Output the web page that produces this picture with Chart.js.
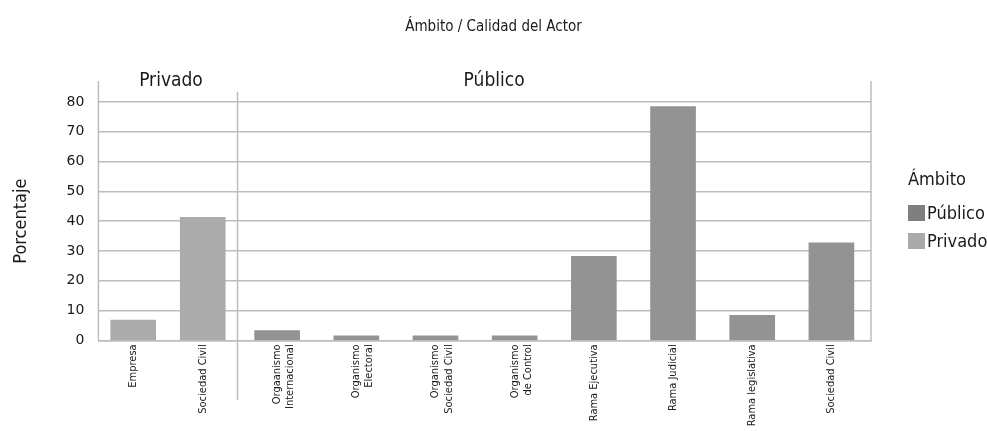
<!DOCTYPE html>
<html lang="es">
<head>
<meta charset="utf-8">
<title>Ámbito / Calidad del Actor</title>
<script src="https://cdn.jsdelivr.net/npm/chart.js@4.4.1/dist/chart.umd.min.js"></script>
<style>
  html, body { margin: 0; padding: 0; background: #fff; }
  .chart-container { position: relative; width: 987px; height: 431px; }
</style>
</head>
<body>
<div class="chart-container"><canvas id="chart"></canvas></div>
<script>
const chartTitle = 'Ámbito / Calidad del Actor';
const yTitle = 'Porcentaje';
const legendTitle = 'Ámbito';
const groupLabels = ['Privado', 'Público'];

const privadoCategories = ['Empresa', 'Sociedad Civil'];
const publicoCategories = [
  ['Orgaanismo', 'Internacional'],
  ['Organismo', 'Electoral'],
  ['Organismo', 'Sociedad Civil'],
  ['Organismo', 'de Control'],
  'Rama Ejecutiva',
  'Rama Judicial',
  'Rama legislativa',
  'Sociedad Civil'
];

const privadoValues = [6.8, 41.3];
const publicoValues = [3.3, 1.5, 1.5, 1.5, 28.2, 78.5, 8.4, 32.7];

const yTicks = [0, 10, 20, 30, 40, 50, 60, 70, 80];

const narrow = "'Liberation Sans Narrow', 'DejaVu Sans Condensed', sans-serif";
const textColor = '#1a1a1a';
const lineColor = '#bdbdbd';
const legendColors = { 'Público': '#7f7f7f', 'Privado': '#a9a9a9' };

// title, frame lines that run past the plot area, group headers and the legend
const framePlugin = {
  id: 'frame',
  afterDraw(chart) {
    const { ctx, chartArea } = chart;
    const priv = chart.scales.xPriv;
    const pub = chart.scales.xPub;
    ctx.save();

    ctx.fillStyle = textColor;
    ctx.font = '15px ' + narrow;
    ctx.textAlign = 'center';
    ctx.textBaseline = 'middle';
    ctx.fillText(chartTitle, chart.width / 2, 27);

    ctx.strokeStyle = lineColor;
    ctx.lineWidth = 1.5;
    ctx.beginPath();
    ctx.moveTo(priv.left, chartArea.top - 21);
    ctx.lineTo(priv.left, chartArea.bottom);
    ctx.moveTo(pub.right, chartArea.top - 21);
    ctx.lineTo(pub.right, chartArea.bottom);
    ctx.moveTo(pub.left, chartArea.top - 10);
    ctx.lineTo(pub.left, chartArea.bottom + 60);
    ctx.stroke();

    ctx.font = '19px ' + narrow;
    ctx.fillText(groupLabels[0], (priv.left + priv.right) / 2 + 3, chartArea.top - 21);
    ctx.fillText(groupLabels[1], pub.left + pub.width * 0.405, chartArea.top - 21);

    // legend
    const lx = chartArea.right + 37;
    let ly = chartArea.top + 78;
    ctx.font = '18px ' + narrow;
    ctx.textAlign = 'left';
    ctx.fillText(legendTitle, lx, ly);
    ly += 5;
    chart.data.datasets.forEach(ds => {
      ly += 28;
      ctx.fillStyle = legendColors[ds.label];
      ctx.fillRect(lx, ly - 8, 17, 16);
      ctx.fillStyle = textColor;
      ctx.fillText(ds.label, lx + 19, ly + 1);
    });
    ctx.restore();
  }
};

new Chart(document.getElementById('chart'), {
  type: 'bar',
  data: {
    datasets: [
      {
        label: 'Público',
        data: publicoValues,
        xAxisID: 'xPub',
        backgroundColor: '#939393',
        borderWidth: 0,
        grouped: false,
        barThickness: 45
      },
      {
        label: 'Privado',
        data: privadoValues,
        xAxisID: 'xPriv',
        backgroundColor: '#ababab',
        borderWidth: 0,
        grouped: false,
        barThickness: 45
      }
    ]
  },
  options: {
    responsive: true,
    maintainAspectRatio: false,
    animation: false,
    layout: { padding: { left: 11, right: 116, top: 102, bottom: 7 } },
    plugins: {
      title: { display: false },
      legend: { display: false },
      tooltip: { enabled: false }
    },
    scales: {
      xPriv: {
        type: 'category',
        axis: 'x',
        position: 'bottom',
        labels: privadoCategories,
        offset: true,
        stack: 'x',
        stackWeight: 139,
        grid: { display: false, drawTicks: false },
        border: { display: true, color: lineColor, width: 1.5 },
        ticks: {
          autoSkip: false, minRotation: 90, maxRotation: 90, padding: 4,
          color: textColor, font: { family: narrow, size: 11 }
        }
      },
      xPub: {
        type: 'category',
        axis: 'x',
        position: 'bottom',
        labels: publicoCategories,
        offset: true,
        stack: 'x',
        stackWeight: 633,
        grid: { display: false, drawTicks: false },
        border: { display: true, color: lineColor, width: 1.5 },
        ticks: {
          autoSkip: false, minRotation: 90, maxRotation: 90, padding: 4,
          color: textColor, font: { family: narrow, size: 11 }
        }
      },
      y: {
        min: yTicks[0],
        max: yTicks[yTicks.length - 1],
        grid: { color: lineColor, lineWidth: 1.5, drawTicks: false },
        border: { display: false },
        ticks: {
          stepSize: yTicks[1] - yTicks[0],
          padding: 14,
          color: textColor,
          font: { family: "'DejaVu Sans', sans-serif", size: 14 }
        },
        title: {
          display: true,
          text: yTitle,
          color: textColor,
          font: { family: narrow, size: 18 },
          padding: { top: 0, bottom: 20 }
        }
      }
    }
  },
  plugins: [framePlugin]
});
</script>
</body>
</html>
